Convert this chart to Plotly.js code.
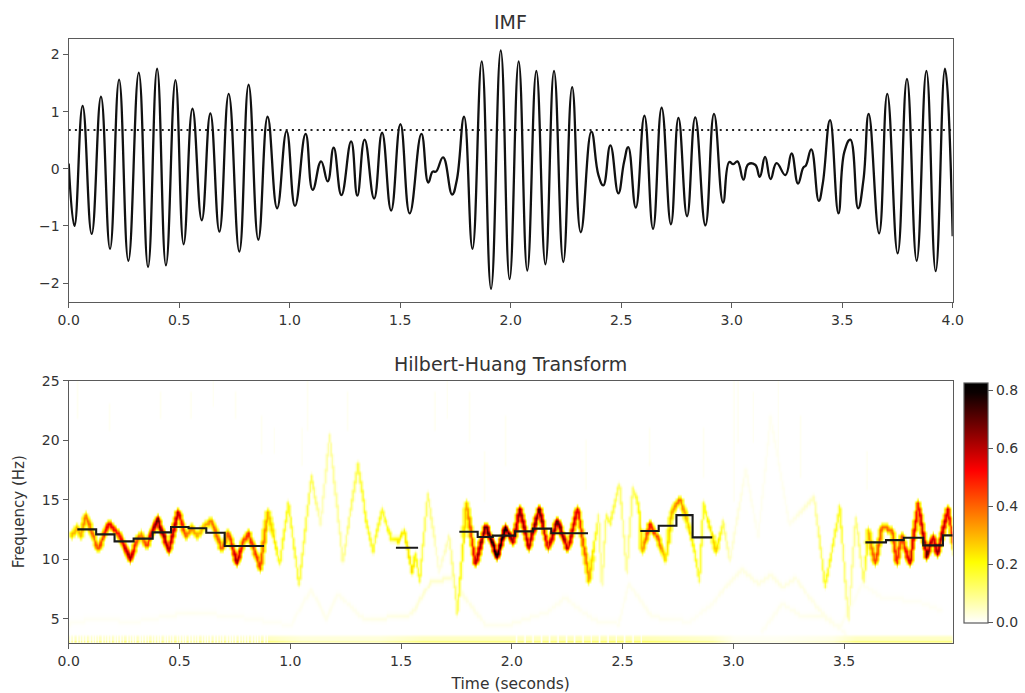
<!DOCTYPE html>
<html>
<head>
<meta charset="utf-8">
<script src="https://cdn.plot.ly/plotly-3.0.1.min.js"></script>
<style>html,body{margin:0;padding:0;background:#fff}</style>
</head>
<body>
<div id="chart" style="width:1025px;height:693px"></div>
<script>
// ---- IMF turning points (drawn with a spline) ----
const imfTime = [0,.026,.063,.104,.146,.187,.228,.270,.317,.359,.400,.440,.483,.520,.560,.602,.641,.682,.724,.772,.814,.858,.900,.943,.986,1.024,1.072,1.104,1.142,1.172,1.199,1.234,1.278,1.306,1.339,1.382,1.418,1.459,1.501,1.543,1.596,1.627,1.647,1.662,1.694,1.735,1.756,1.789,1.827,1.869,1.911,1.955,1.995,2.036,2.075,2.116,2.157,2.196,2.238,2.278,2.317,2.365,2.397,2.419,2.451,2.487,2.513,2.532,2.566,2.605,2.644,2.683,2.725,2.759,2.798,2.835,2.881,2.920,2.961,2.989,3.007,3.026,3.053,3.075,3.106,3.127,3.151,3.176,3.203,3.243,3.271,3.300,3.324,3.336,3.360,3.394,3.412,3.445,3.483,3.510,3.537,3.572,3.596,3.620,3.667,3.704,3.751,3.793,3.837,3.881,3.923,3.965,4.0];
const imfValue = [.09,-1.00,1.10,-1.14,1.26,-1.40,1.56,-1.61,1.68,-1.72,1.75,-1.69,1.55,-1.32,1.05,-.90,.97,-1.10,1.31,-1.45,1.47,-1.24,.91,-.69,.66,-.65,.61,-.37,.13,-.22,.37,-.46,.48,-.47,.51,-.52,.63,-.73,.78,-.78,.61,-.24,-.05,-.05,.20,-.45,-.20,.91,-1.40,1.88,-2.10,2.07,-1.93,1.88,-1.78,1.71,-1.67,1.71,-1.63,1.43,-1.11,.65,-.11,-.29,.41,-.43,.12,.38,-.68,.93,-1.05,1.07,-.97,.89,-.83,.90,-.99,.96,-.59,.12,.08,.13,-.19,.08,.07,-.14,.21,-.18,.10,-.11,.27,-.26,.02,.06,.34,-.56,-.26,.85,-.78,.30,.51,-.69,-.20,.96,-1.13,1.31,-1.48,1.57,-1.61,1.71,-1.79,1.75,-1.18];
const thresholdTime = [0, 4];
const thresholdValue = [.68, .68];

// ---- Main Hilbert-Huang ridge, read node by node ----
const ridgeTime = [.011,.036,.054,.075,.130,.179,.225,.275,.300,.323,.350,.398,.451,.492,.526,.552,.579,.609,.643,.688,.719,.757,.786,.810,.863,.896,.950,.989,1.038,1.092,1.135,1.175,1.235,1.303,1.341,1.371,1.411,1.454,1.484,1.514,1.547,1.562,1.582,1.619,1.67,1.715,1.753,1.793,1.834,1.880,1.932,1.969,2.004,2.034,2.075,2.121,2.162,2.203,2.250,2.295,2.346,2.389,2.404,2.423,2.442,2.483,2.517,2.543,2.569,2.585,2.623,2.661,2.694,2.718,2.756,2.781,2.819,2.845,2.863,2.920,2.952,2.981,3.053,3.11,3.166,3.25,3.362,3.412,3.478,3.517,3.55,3.586,3.607,3.637,3.670,3.715,3.735,3.758,3.794,3.832,3.870,3.900,3.920,3.965,4.0];
const ridgeFreq = [12.02,12.72,12.02,13.70,10.90,13.00,12.16,10.06,11.32,12.16,11.18,13.42,10.76,14.12,11.88,12.72,12.02,12.86,13.28,10.90,12.30,9.78,11.60,12.16,9.36,14.12,9.64,14.68,7.96,16.92,13,20.44,9.9,18.0,13.3,10.76,14.26,11.74,11.6,12.44,8.94,10.48,8.24,15.52,9,12.0,5.6,14.7,9.64,12.86,10.34,12.7,11.46,14.26,11.04,14.26,10.9,13.28,10.9,14.26,8.37,13.7,7.96,13.7,13.1,16.36,8.94,15.94,14.68,10.76,13,11.6,9.92,13.98,15.1,13.84,11.04,8.24,14.68,10.76,13.14,9.9,17.5,12,22,13,15.24,7.8,14.4,4.9,13.56,8.24,12.4,9.64,12.86,12.44,9.78,12,9.64,14.68,10.34,12,10.5,14.26,10.5];
const ridgePower = [.30,.30,.30,.38,.42,.55,.50,.65,.45,.35,.45,.70,.60,.60,.38,.35,.30,.30,.38,.42,.40,.65,.42,.48,.45,.30,.18,.18,.15,.14,.05,.08,.08,.14,.18,.16,.18,.20,.23,.23,.25,.20,.16,.12,.02,.07,.13,.30,.60,.70,.82,.80,.60,.65,.60,.70,.55,.70,.60,.55,.32,.12,.06,.14,.16,.12,.07,.12,.18,.30,.50,.40,.22,.30,.40,.30,.20,.16,.18,.28,.12,.04,.015,.012,.012,.012,.05,.18,.18,.06,.10,.10,.30,.45,.40,.40,.50,.40,.60,.50,.70,.55,.65,.55,.40];

// ---- Faint low-frequency ridges ----
const faintATime = [0,.1,.3,.55,.8,1.0,1.092,1.16,1.213,1.318,1.348,1.545,1.634,1.725,1.785,1.876,1.997,2.16,2.238,2.31,2.374,2.48,2.525,2.63,2.80,2.905,2.962,3.037,3.112,3.166,3.218,3.28,3.34,3.415,3.505];
const faintAFreq = [4.6,5,4.8,5.6,5.1,4.5,7.5,5,7.1,5.2,4.9,5.4,8.2,8.5,6.8,4.6,4.6,5.6,6.8,5.7,4.9,4.6,8,5.2,4.8,6.3,7.7,9.2,8,8.8,7.7,8.5,6.8,5.2,3.8];
const faintAPower = [.008,.008,.008,.012,.008,.008,.014,.014,.014,.014,.018,.025,.04,.04,.025,.015,.015,.012,.014,.012,.012,.012,.014,.014,.008,.012,.018,.022,.022,.022,.022,.022,.018,.018,.01];
const faintBTime = [3.128,3.218,3.31,3.4,3.475,3.505,3.58,3.67,3.83,3.94];
const faintBFreq = [4,6.3,5.2,5.3,4.3,5.2,8,6.8,6.5,5.7];
const faintBPower = [.008,.014,.014,.018,.014,.008,.01,.008,.008,.008];

// ---- Low strip just above the 3 Hz floor ----
const stripTime = [0,.9,1.05,1.4,1.6,2.0,2.6,2.9,3.0,3.2,3.45,3.55,3.99];
const stripPower = [.05,.05,.03,.03,.05,.05,.06,.04,.01,.01,.02,.05,.05];
const floorFreq = [3.3, 3.0];
const floorPowerScale = [1, 3.5];

// ---- Thin faint spikes in the upper band ----
const spikeTime = [.003,.04,.18,.41,.55,.647,.753,.866,.926,1.047,1.077,1.258,1.65,1.707,1.808,1.876,1.967,2.33,2.62,2.86,3.0,3.02,3.09,3.2,3.3,3.6];
const spikeLow =  [15,22,21,22,22,23,22,19,19,18,21,21,21,22,20,15,18,16,18,17,15,20,20,19,17,16];
const spikeHigh = [19,25,23,24,24,25,24,22,21,21,25,24,24,25,24,19,22,20,21,21,25,25,24,25,22,19];

// ---- Black cycle-mean steps ----
const stepTime = [.039,.124,.207,.293,.379,.462,.541,.621,.704,.882,null,1.477,1.577,null,1.763,1.846,1.914,2.015,2.095,2.178,2.344,null,2.58,2.663,2.743,2.816,2.905,null,3.596,3.689,3.769,3.857,3.946,3.99];
const stepFreq = [12.52,12.10,11.51,11.74,12.27,12.72,12.61,12.24,11.12,11.12,null,10.98,10.98,null,12.32,11.88,12.0,12.35,12.58,12.2,12.2,null,12.38,12.83,13.72,11.85,11.85,null,11.43,11.62,11.82,11.18,12.02,12.02];

const timeAxisTicks = [0,.5,1,1.5,2,2.5,3,3.5];
const timeAxisTicksTop = [0,.5,1,1.5,2,2.5,3,3.5,4];
const freqAxisTicks = [5,10,15,20,25];
const imfAxisTicks = [-2,-1,0,1,2];
const colourTicks = [0,.2,.4,.6,.8];

// ---- Rasterise the ridges on to the library's heatmap grid ----
const dt = .00625, df = .25;
const gridTime = Array.from({length: 640}, (_, i) => i * dt);
const gridFreq = Array.from({length: 89}, (_, i) => 3 + i * df);
const z = gridFreq.map(() => gridTime.map(() => 0));
function put(r, c, p) {
  if (r >= 0 && r < gridFreq.length && c >= 0 && c < gridTime.length && p > z[r][c]) z[r][c] = p;
}
function paint(ts, fs, ps, wide) {
  for (let i = 0; i + 1 < ts.length; i++) {
    const n = 80;
    for (let s = 0; s <= n; s++) {
      const a = s / n;
      const t = ts[i] + (ts[i + 1] - ts[i]) * a;
      const f = fs[i] + (fs[i + 1] - fs[i]) * a;
      const p = ps[i] + (ps[i + 1] - ps[i]) * a;
      const r = Math.round((f - 3) / df), c = Math.round(t / dt);
      put(r, c, p);
      if (wide) {
        const strong = p > .25;
        put(r, c - 1, p * (strong ? .65 : .3)); put(r, c + 1, p * (strong ? .65 : .3));
        if (strong) { put(r, c - 2, p * .3); put(r, c + 2, p * .3); }
        put(r - 1, c, p * (strong ? .45 : .2)); put(r + 1, c, p * (strong ? .45 : .2));
      }
    }
  }
}
paint(faintATime, faintAFreq, faintAPower, true);
paint(faintBTime, faintBFreq, faintBPower, true);
floorFreq.forEach((f, k) => {
  paint(stripTime, stripTime.map(() => f), stripPower.map(v => v * floorPowerScale[k]), false);
});
paint(stripTime, stripTime.map(() => 3.55), stripPower.map(v => v * .9), false);
spikeTime.forEach((t, i) => paint([t, t], [spikeLow[i], spikeHigh[i]], [.012, .012], false));
paint(ridgeTime, ridgeFreq, ridgePower, true);

const hotR = [[0,'#ffffff'],[.254,'#ffff00'],[.635,'#ff0000'],[.96,'#0b0000'],[1,'#000000']];
const axisCol = '#5a5a5a', textCol = '#333333';
const tickCommon = {ticks:'outside', ticklen:5, tickwidth:1, tickcolor:axisCol, showgrid:false, zeroline:false,
  showline:true, linecolor:axisCol, linewidth:1.2, mirror:true, tickfont:{size:14, color:textCol}};

const traces = [
  {x:thresholdTime, y:thresholdValue, type:'scatter', mode:'lines', xaxis:'x', yaxis:'y', hoverinfo:'skip',
   line:{color:'#222', width:2, dash:'2px,4.2px'}},
  {x:imfTime, y:imfValue, type:'scatter', mode:'lines', xaxis:'x', yaxis:'y', hoverinfo:'skip',
   line:{color:'#111', width:2.3, shape:'spline', smoothing:1.3}},
  {x:gridTime, y:gridFreq, z:z, type:'heatmap', xaxis:'x2', yaxis:'y2', zmin:0, zmax:.826, zsmooth:'best',
   colorscale:hotR, hoverinfo:'skip',
   colorbar:{x:964/1025, xanchor:'left', xpad:0, y:1-622.5/693, yanchor:'bottom', ypad:0,
     lenmode:'pixels', len:240, thicknessmode:'pixels', thickness:23.5, outlinecolor:axisCol, outlinewidth:1.2,
     ticks:'outside', ticklen:5, tickwidth:1, tickcolor:axisCol, tickvals:colourTicks, ticktext:colourTicks.map(v=>v.toFixed(1)),
     tickfont:{size:14,color:textCol}}},
  {x:stepTime, y:stepFreq, type:'scatter', mode:'lines', xaxis:'x2', yaxis:'y2', hoverinfo:'skip', connectgaps:false,
   line:{color:'#1a1a1a', width:2.1, shape:'hv'}}
];
const layout = {
  width:1025, height:693, margin:{l:0,r:0,t:0,b:0}, paper_bgcolor:'#fff', plot_bgcolor:'#fff', showlegend:false,
  font:{family:'"DejaVu Sans", sans-serif', size:14, color:textCol},
  xaxis:Object.assign({}, tickCommon, {domain:[68.7/1025,952.7/1025], range:[0,4], tickvals:timeAxisTicksTop, ticktext:timeAxisTicksTop.map(v=>v.toFixed(1)), anchor:'y'}),
  yaxis:Object.assign({}, tickCommon, {domain:[1-302/693,1-39/693], range:[-2.33,2.27], tickvals:imfAxisTicks, anchor:'x'}),
  xaxis2:Object.assign({}, tickCommon, {domain:[68.7/1025,952.7/1025], range:[0,3.99], tickvals:timeAxisTicks, ticktext:timeAxisTicks.map(v=>v.toFixed(1)), anchor:'y2',
    title:{text:'Time (seconds)', font:{size:15.5,color:textCol}, standoff:10}}),
  yaxis2:Object.assign({}, tickCommon, {domain:[1-642.8/693,1-380.7/693], range:[3,25], tickvals:freqAxisTicks, anchor:'x2',
    title:{text:'Frequency (Hz)', font:{size:15,color:textCol}, standoff:13}}),
  annotations:[
    {text:'IMF', xref:'paper', yref:'paper', x:510.7/1025, y:1-35/693, xanchor:'center', yanchor:'bottom', showarrow:false, font:{size:19,color:textCol}},
    {text:'Hilbert-Huang Transform', xref:'paper', yref:'paper', x:510.7/1025, y:1-376.5/693, xanchor:'center', yanchor:'bottom', showarrow:false, font:{size:19,color:textCol}}
  ]
};
Plotly.newPlot('chart', traces, layout, {displayModeBar:false, staticPlot:true});
</script>
</body>
</html>
